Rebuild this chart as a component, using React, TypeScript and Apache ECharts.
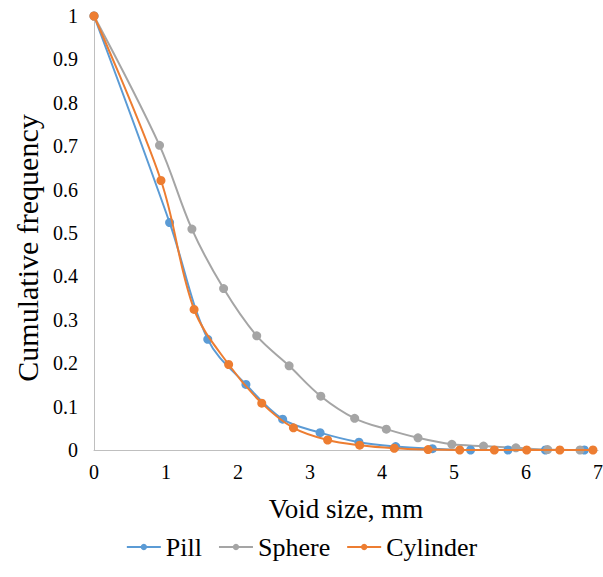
import React, { useEffect, useRef } from "react";
import * as echarts from "echarts";

const pillX = [0, 1.05, 1.58, 2.11, 2.62, 3.14, 3.68, 4.19, 4.7, 5.23, 5.75, 6.27, 6.81];
const pillY = [1, 0.524, 0.255, 0.151, 0.071, 0.04, 0.018, 0.008, 0.003, 0, 0, 0, 0];
const sphereX = [0, 0.91, 1.36, 1.8, 2.26, 2.71, 3.15, 3.62, 4.06, 4.5, 4.97, 5.41, 5.86, 6.3, 6.75];
const sphereY = [1, 0.702, 0.509, 0.372, 0.263, 0.194, 0.124, 0.073, 0.048, 0.028, 0.013, 0.009, 0.005, 0.001, 0];
const cylX = [0, 0.93, 1.39, 1.87, 2.33, 2.77, 3.245, 3.69, 4.17, 4.64, 5.08, 5.56, 6.01, 6.47, 6.93];
const cylY = [1, 0.621, 0.324, 0.197, 0.108, 0.051, 0.023, 0.011, 0.004, 0.001, 0, 0, 0, 0, 0];

const seriesNames = ["Pill", "Sphere", "Cylinder"];
const colors = ["#5B9BD5", "#A5A5A5", "#ED7D31"];

const zip = (xs: number[], ys: number[]) => xs.map((x, i) => [x, ys[i]]);

export default function App() {
  const ref = useRef<HTMLDivElement>(null);
  useEffect(() => {
    if (!ref.current) return;
    const chart = echarts.init(ref.current, undefined, { renderer: "svg" });
    const font = "Liberation Serif";
    const datasets = [zip(pillX, pillY), zip(sphereX, sphereY), zip(cylX, cylY)];
    chart.setOption({
      animation: false,
      textStyle: { fontFamily: font },
      grid: {
        left: 94,
        right: 5,
        top: 16,
        bottom: 127,
        containLabel: false,
        outerBoundsMode: "none",
      },
      legend: {
        bottom: 12,
        left: "center",
        itemWidth: 34,
        itemHeight: 8,
        itemGap: 16,
        textStyle: { fontFamily: font, fontSize: 26, color: "#000" },
        data: seriesNames,
      },
      xAxis: {
        type: "value",
        min: 0,
        max: 7,
        interval: 1,
        name: "Void size, mm",
        nameLocation: "middle",
        nameGap: 45,
        nameTextStyle: { fontFamily: font, fontSize: 27, color: "#000" },
        axisLine: { show: true, lineStyle: { color: "#BFBFBF", width: 1 } },
        axisTick: { show: false },
        splitLine: { show: false },
        axisLabel: { fontFamily: font, fontSize: 20, color: "#000", margin: 12 },
      },
      yAxis: {
        type: "value",
        min: 0,
        max: 1,
        interval: 0.1,
        name: "Cumulative frequency",
        nameLocation: "middle",
        nameGap: 51,
        nameTextStyle: {
          fontFamily: font,
          fontSize: 30,
          color: "#000",
          padding: [0, 30, 0, 0],
        },
        axisLine: { show: true, lineStyle: { color: "#BFBFBF", width: 1 } },
        axisTick: { show: false },
        splitLine: { show: false },
        axisLabel: { fontFamily: font, fontSize: 20, color: "#000", margin: 16 },
      },
      series: seriesNames.map((name, i) => ({
        name,
        type: "line",
        data: datasets[i],
        smooth: 0.35,
        symbol: "circle",
        symbolSize: 9,
        lineStyle: { color: colors[i], width: 2 },
        itemStyle: { color: colors[i] },
        z: i === 2 ? 3 : 2,
      })),
    });
    return () => chart.dispose();
  }, []);
  return (
    <div
      ref={ref}
      style={{ position: "absolute", left: 0, top: 0, width: 603, height: 577 }}
    />
  );
}
